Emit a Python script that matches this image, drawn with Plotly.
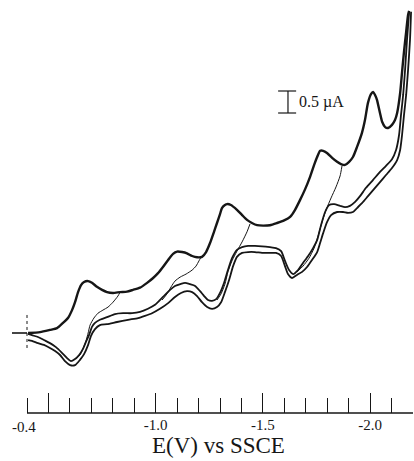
import plotly.graph_objects as go

# Cyclic voltammogram: potential E (V vs SSCE) and current I (µA, cathodic up)

# forward (cathodic) sweep out to the final switching potential
fwd_E = [-0.405, -0.461, -0.507, -0.540, -0.568, -0.591, -0.610, -0.624, -0.638, -0.652,
         -0.666, -0.685, -0.703, -0.726, -0.750, -0.773, -0.801, -0.834, -0.866, -0.894,
         -0.927, -0.960, -0.988, -1.011, -1.034, -1.058, -1.081, -1.100, -1.123, -1.146,
         -1.170, -1.193, -1.216, -1.235, -1.254, -1.272, -1.286, -1.300, -1.309, -1.323,
         -1.333, -1.351, -1.379, -1.403, -1.426, -1.449, -1.473, -1.501, -1.533, -1.566,
         -1.599, -1.627, -1.650, -1.673, -1.697, -1.720, -1.739, -1.753, -1.767, -1.781,
         -1.799, -1.823, -1.846, -1.864, -1.883, -1.902, -1.920, -1.939, -1.962, -1.976,
         -1.990, -2.004, -2.014, -2.023, -2.032, -2.046, -2.056, -2.070, -2.084, -2.102,
         -2.116, -2.126, -2.140, -2.149, -2.158, -2.168, -2.177, -2.182]
fwd_I = [0.00, 0.02, 0.07, 0.11, 0.23, 0.34, 0.52, 0.70, 0.93, 1.09,
         1.16, 1.18, 1.14, 1.05, 0.98, 0.93, 0.91, 0.93, 0.94, 0.98,
         1.03, 1.14, 1.25, 1.36, 1.50, 1.66, 1.80, 1.85, 1.84, 1.81,
         1.75, 1.72, 1.73, 1.84, 2.05, 2.30, 2.50, 2.70, 2.84, 2.91,
         2.93, 2.91, 2.80, 2.68, 2.57, 2.50, 2.45, 2.44, 2.45, 2.50,
         2.56, 2.64, 2.80, 3.02, 3.27, 3.55, 3.82, 4.00, 4.14, 4.14,
         4.09, 3.98, 3.89, 3.84, 3.82, 3.89, 4.00, 4.23, 4.55, 4.84,
         5.23, 5.43, 5.48, 5.41, 5.30, 5.00, 4.80, 4.68, 4.66, 4.73,
         4.84, 5.00, 5.45, 5.93, 6.39, 6.84, 7.23, 7.32]

# return (anodic) sweeps from the final switching potential, two cycles
retA_E = [-2.182, -2.172, -2.163, -2.154, -2.144, -2.135, -2.121, -2.102, -2.074, -2.046,
          -2.014, -1.981, -1.953, -1.930, -1.906, -1.883, -1.860, -1.832, -1.809, -1.790,
          -1.771, -1.753, -1.734, -1.711, -1.687, -1.664, -1.641, -1.622, -1.603, -1.585,
          -1.561, -1.533, -1.496, -1.463, -1.431, -1.403, -1.379, -1.356, -1.337, -1.319,
          -1.300, -1.282, -1.263, -1.244, -1.226, -1.207, -1.184, -1.160, -1.137, -1.114,
          -1.090, -1.067, -1.034, -0.997, -0.964, -0.927, -0.890, -0.848, -0.810, -0.773,
          -0.740, -0.717, -0.703, -0.689, -0.675, -0.661, -0.643, -0.624, -0.605, -0.587,
          -0.563, -0.535, -0.507, -0.479, -0.451, -0.423, -0.405]
retA_I = [7.30, 6.66, 5.98, 5.41, 4.95, 4.50, 4.16, 3.95, 3.80, 3.66,
          3.48, 3.30, 3.11, 2.98, 2.89, 2.86, 2.89, 2.93, 2.91, 2.75,
          2.45, 2.11, 1.93, 1.75, 1.59, 1.43, 1.34, 1.43, 1.64, 1.86,
          1.93, 1.95, 1.97, 1.98, 1.98, 1.95, 1.89, 1.70, 1.43, 1.14,
          0.91, 0.77, 0.73, 0.75, 0.84, 0.95, 1.07, 1.11, 1.14, 1.11,
          1.07, 0.98, 0.82, 0.64, 0.55, 0.48, 0.45, 0.45, 0.43, 0.36,
          0.30, 0.23, 0.14, -0.05, -0.20, -0.36, -0.50, -0.59, -0.64, -0.57,
          -0.45, -0.32, -0.23, -0.16, -0.09, -0.05, -0.02]

retB_E = [-2.191, -2.186, -2.177, -2.168, -2.158, -2.149, -2.140, -2.126, -2.102, -2.074,
          -2.046, -2.018, -1.990, -1.962, -1.939, -1.920, -1.897, -1.874, -1.846, -1.818,
          -1.799, -1.781, -1.767, -1.753, -1.729, -1.706, -1.683, -1.659, -1.636, -1.617,
          -1.603, -1.585, -1.561, -1.533, -1.496, -1.463, -1.431, -1.403, -1.379, -1.361,
          -1.342, -1.323, -1.305, -1.286, -1.263, -1.240, -1.216, -1.193, -1.170, -1.146,
          -1.118, -1.090, -1.058, -1.020, -0.983, -0.950, -0.918, -0.871, -0.820, -0.773,
          -0.740, -0.717, -0.698, -0.685, -0.666, -0.647, -0.624, -0.601, -0.577, -0.554,
          -0.531, -0.507, -0.479, -0.451, -0.423, -0.405]
retB_I = [7.30, 6.66, 5.98, 5.41, 4.95, 4.50, 4.16, 3.93, 3.75, 3.59,
          3.43, 3.27, 3.11, 2.95, 2.84, 2.75, 2.73, 2.75, 2.75, 2.68,
          2.52, 2.27, 2.05, 1.84, 1.66, 1.50, 1.39, 1.32, 1.25, 1.34,
          1.52, 1.75, 1.82, 1.82, 1.82, 1.84, 1.84, 1.82, 1.73, 1.52,
          1.20, 0.93, 0.70, 0.59, 0.55, 0.59, 0.70, 0.84, 0.93, 0.95,
          0.91, 0.82, 0.68, 0.55, 0.45, 0.39, 0.34, 0.30, 0.25, 0.20,
          0.18, 0.09, -0.07, -0.27, -0.48, -0.61, -0.73, -0.73, -0.64, -0.50,
          -0.41, -0.34, -0.27, -0.23, -0.18, -0.16]

# return sweeps from the earlier switching potentials, until they join the return band
rev1_E = [-0.834, -0.824, -0.801, -0.778, -0.754, -0.731, -0.712, -0.694, -0.685, -0.675,
          -0.661, -0.647, -0.629]
rev1_I = [0.93, 0.84, 0.70, 0.59, 0.52, 0.45, 0.34, 0.18, 0.00, -0.18,
          -0.36, -0.50, -0.59]

rev2_E = [-1.212, -1.202, -1.188, -1.170, -1.142, -1.114, -1.090, -1.072, -1.053, -1.030]
rev2_I = [1.73, 1.64, 1.52, 1.43, 1.34, 1.27, 1.18, 1.05, 0.89, 0.75]

rev3_E = [-1.440, -1.426, -1.403, -1.379, -1.356, -1.337, -1.323, -1.305, -1.286]
rev3_I = [2.48, 2.30, 2.07, 1.86, 1.64, 1.39, 1.11, 0.89, 0.75]

rev4_E = [-1.869, -1.860, -1.841, -1.818, -1.795, -1.776, -1.757, -1.739, -1.715, -1.687,
          -1.659]
rev4_I = [3.80, 3.57, 3.32, 3.07, 2.80, 2.52, 2.20, 1.93, 1.70, 1.52,
          1.39]

# axis labelling
major_ticks = [-0.5, -1.0, -1.5, -2.0]
major_text = ["", "-1.0", "-1.5", "-2.0"]
start_label = "-0.4"
scale_bar_uA = 0.5

INK = "#161616"
SERIF = "Liberation Serif, Times New Roman, serif"

fig = go.Figure()


def add_curve(E, I, width):
    fig.add_trace(go.Scatter(x=E, y=I, mode="lines", showlegend=False, hoverinfo="skip",
                             line=dict(color=INK, width=width, shape="spline", smoothing=0.6)))


add_curve(retB_E, retB_I, 1.8)
add_curve(retA_E, retA_I, 1.8)
for E, I in [(rev1_E, rev1_I), (rev2_E, rev2_I), (rev3_E, rev3_I), (rev4_E, rev4_I)]:
    add_curve(E, I, 1.0)
add_curve(fwd_E, fwd_I, 2.4)

x_lo, x_hi = -0.33, -2.2
y_lo, y_hi = -1.818, 7.568
y_dom0 = 48 / 461

shapes = [
    # potential axis baseline
    dict(type="line", xref="x", yref="paper", x0=-0.4, x1=x_hi, y0=y_dom0, y1=y_dom0,
         line=dict(color=INK, width=1.6)),
    # zero-current marker at the starting potential
    dict(type="line", xref="x", yref="y", x0=x_lo, x1=-0.4, y0=0, y1=0,
         line=dict(color=INK, width=1.6)),
    dict(type="line", xref="x", yref="y", x0=-0.4, x1=-0.4, y0=-0.34, y1=0.45,
         line=dict(color=INK, width=1, dash="dot")),
    # current scale bar
    dict(type="line", xref="x", yref="y", x0=-1.617, x1=-1.617, y0=5.0, y1=5.0 + scale_bar_uA,
         line=dict(color=INK, width=1.2)),
    dict(type="line", xref="x", yref="y", x0=-1.571, x1=-1.655, y0=5.0, y1=5.0,
         line=dict(color=INK, width=1.2)),
    dict(type="line", xref="x", yref="y", x0=-1.571, x1=-1.655, y0=5.0 + scale_bar_uA,
         y1=5.0 + scale_bar_uA, line=dict(color=INK, width=1.2)),
]

annotations = [
    dict(x=-1.659, y=5.0 + scale_bar_uA / 2, xref="x", yref="y", text=f"{scale_bar_uA} µA",
         showarrow=False, xanchor="left", yanchor="middle",
         font=dict(family=SERIF, size=16, color=INK)),
    dict(x=-0.4, y=y_dom0, xref="x", yref="paper", text=start_label, showarrow=False,
         xanchor="center", yanchor="top", xshift=-3, yshift=-4,
         font=dict(family=SERIF, size=15, color=INK)),
    dict(x=218 / 414, y=1 / 461, xref="paper", yref="paper", text="E(V) vs SSCE",
         showarrow=False, xanchor="center", yanchor="bottom",
         font=dict(family=SERIF, size=23, color=INK)),
]

fig.update_layout(
    width=414, height=461,
    margin=dict(l=0, r=0, t=0, b=0),
    paper_bgcolor="white", plot_bgcolor="white",
    shapes=shapes, annotations=annotations,
    xaxis=dict(range=[x_lo, x_hi], domain=[12 / 414, 413 / 414],
               showgrid=False, zeroline=False, showline=False,
               tickmode="array", tickvals=major_ticks, ticktext=major_text,
               ticks="inside", ticklen=20, tickwidth=1.2, tickcolor=INK,
               ticklabelstandoff=1,
               tickfont=dict(family=SERIF, size=15, color=INK),
               minor=dict(tick0=-0.4, dtick=0.1, ticks="inside", ticklen=15,
                          tickwidth=1, tickcolor=INK, showgrid=False)),
    yaxis=dict(range=[y_lo, y_hi], domain=[y_dom0, 1], visible=False,
               showgrid=False, zeroline=False),
)

fig.write_html("out.html")
